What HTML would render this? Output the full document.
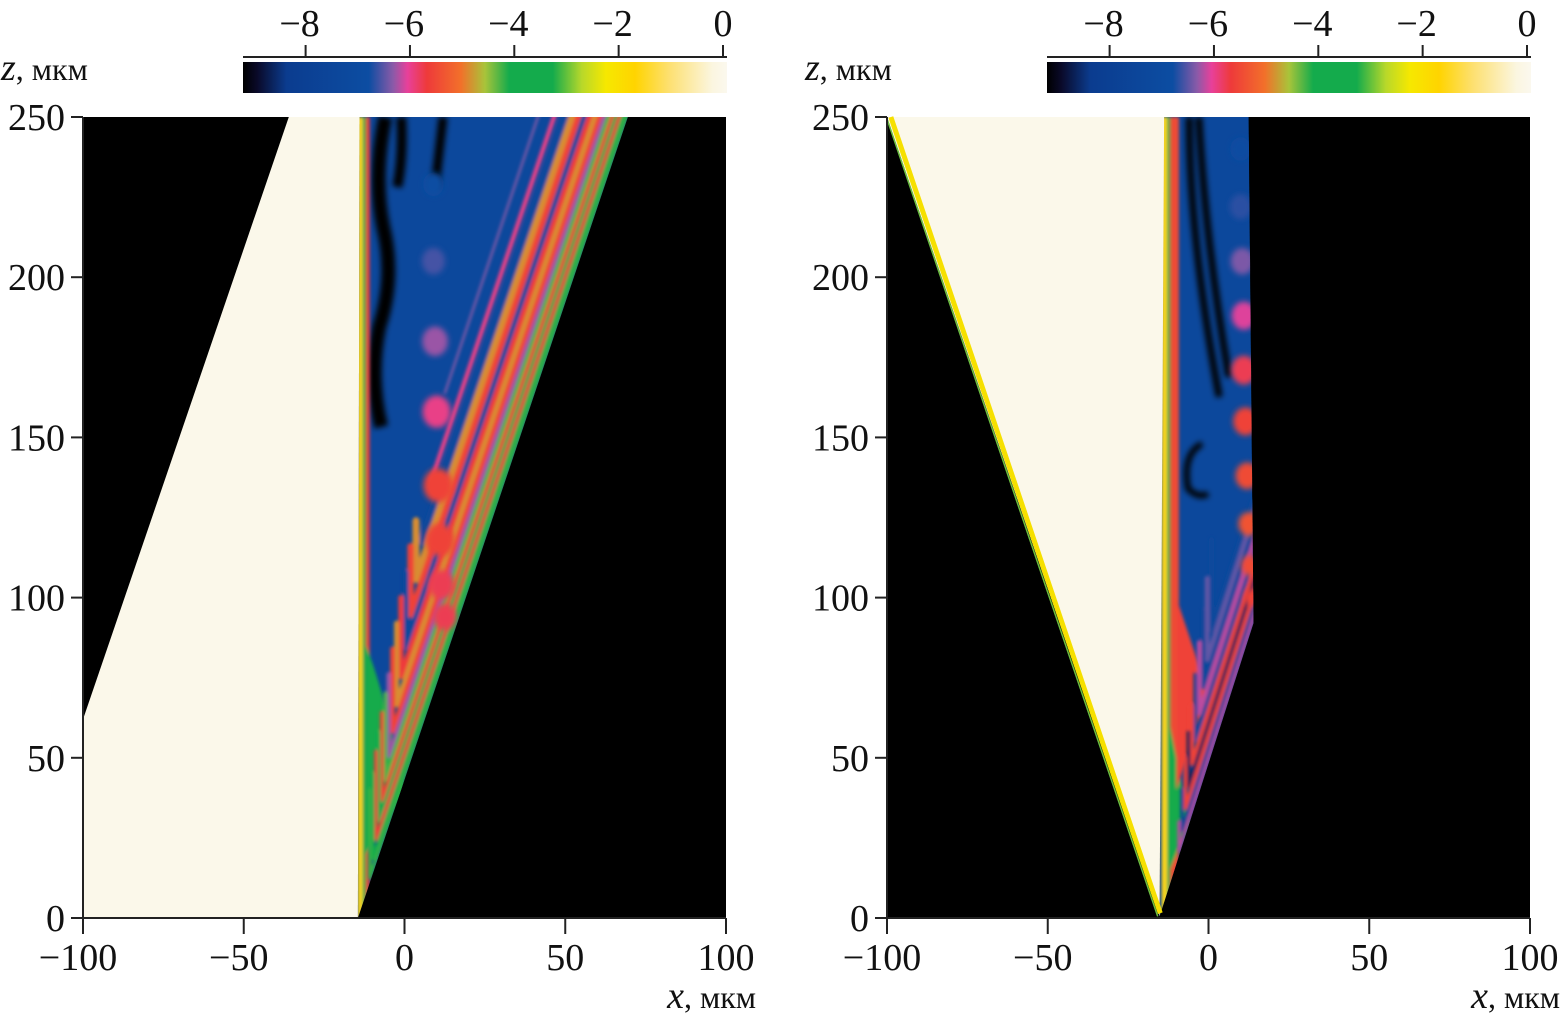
<!DOCTYPE html>
<html><head><meta charset="utf-8">
<style>
html,body{margin:0;padding:0;background:#fff;}
svg{display:block;}
text{font-family:"Liberation Serif","Times New Roman",serif;fill:#111;}
</style></head>
<body>
<svg id="fig" width="1562" height="1022" viewBox="0 0 1562 1022" xmlns="http://www.w3.org/2000/svg" font-family="Liberation Serif, serif">
<defs>
<linearGradient id="cmap" x1="0" x2="1" y1="0" y2="0">
<stop offset="0" stop-color="#000"/>
<stop offset="0.03" stop-color="#0a0a2a"/>
<stop offset="0.09" stop-color="#0b3c8f"/>
<stop offset="0.26" stop-color="#0c4da2"/>
<stop offset="0.31" stop-color="#8a5aa8"/>
<stop offset="0.34" stop-color="#e8409a"/>
<stop offset="0.38" stop-color="#ee3a3a"/>
<stop offset="0.45" stop-color="#f2702a"/>
<stop offset="0.50" stop-color="#a8c43a"/>
<stop offset="0.55" stop-color="#14ab4c"/>
<stop offset="0.64" stop-color="#14ab4c"/>
<stop offset="0.70" stop-color="#b8d82a"/>
<stop offset="0.75" stop-color="#f6e800"/>
<stop offset="0.81" stop-color="#ffd400"/>
<stop offset="0.88" stop-color="#fde070"/>
<stop offset="0.97" stop-color="#fbf6e0"/>
<stop offset="1" stop-color="#fbf8ee"/>
</linearGradient>
<filter id="blur2" x="-20%" y="-20%" width="140%" height="140%"><feGaussianBlur stdDeviation="1.5"/></filter>
<filter id="blur4" x="-50%" y="-50%" width="200%" height="200%"><feGaussianBlur stdDeviation="3"/></filter>
</defs>
<g id="root"></g>
</svg>
<script>
// ---- data (micrometres / log-intensity) ----
const xTicks = [-100, -50, 0, 50, 100];
const zTicks = [0, 50, 100, 150, 200, 250];
const cbTicks = [-8, -6, -4, -2, 0];
// left panel regions (x,z)
const leftCream = [[-100,0],[-100,62],[-36,250],[-14,250],[-14.5,0]];
const leftWedge = [[-14.5,0],[-14,250],[69.5,250],[-14.5,0]];
// left V-stripes: offset from diagonal, width, level, top of left arm (z; 0 = no left arm)
const leftStripeD   = [0.5, 1.6, 2.7, 3.8, 4.9, 6.1, 7.4, 8.8, 10.3, 11.9, 13.6, 15.4, 17.4, 19.6, 23, 28];
const leftStripeW   = [1.1, 1.1, 1.1, 1.1, 1.2, 1.3, 1.4, 1.5, 1.6, 1.7, 1.8, 2.0, 2.2, 2.4, 1.4, 0.8];
const leftStripeLvl = [-3.2, -4.0, -5.7, -4.0, -5.6, -4.3, -6.3, -5.6, -4.9, -5.7, -7.3, -5.6, -4.9, -7.3, -6.0, -6.4];
const leftStripeTop = [40, 45, 52, 58, 64, 70, 76, 84, 92, 100, 108, 116, 124, 0, 0, 0];
const leftDotX = [9, 9, 9.5, 10, 10.5, 11, 11.5, 12.5];
const leftDotZ = [229, 205, 180, 158, 135, 118, 104, 94];
const leftDotR = [3.2, 3.6, 4.0, 4.4, 4.6, 4.4, 4.0, 3.6];
const leftDotLvl = [-6.8, -6.6, -6.3, -6.0, -5.6, -5.6, -5.8, -5.8];
// right panel
const rightCream = [[-100,250],[-15.2,0.5],[-13.8,250]];
const rightWedge = [[-14.3,250],[12.5,250],[14,92],[-15.2,0.5]];
const rightStripeD   = [0.5, 1.6, 2.8, 4.0, 5.2, 6.5, 7.9, 9.3, 10.8, 12.4];
const rightStripeW   = [1.0, 1.1, 1.2, 1.1, 1.3, 1.2, 1.4, 1.3, 1.5, 1.6];
const rightStripeLvl = [-6.2, -7.6, -5.6, -8.7, -5.6, -7.6, -6.2, -7.4, -6.5, -7.3];
const rightStripeTop = [30, 40, 50, 58, 66, 76, 86, 96, 106, 118];
const rightDotX = [10, 10, 10.5, 11, 11, 11.5, 12, 12.5, 13, 13.5];
const rightDotZ = [240, 222, 205, 188, 171, 155, 138, 123, 110, 100];
const rightDotR = [3.2, 3.4, 3.6, 3.8, 3.9, 3.8, 3.6, 3.2, 2.8, 2.3];
const rightDotLvl = [-6.9, -6.7, -6.4, -6.1, -5.8, -5.6, -5.5, -5.4, -5.5, -5.6];

const NS = "http://www.w3.org/2000/svg";
const root = document.getElementById('root');
const cbMin = -9.2, cbMax = 0;
const stops = [[0,'#000'],[0.09,'#0b3c8f'],[0.26,'#0c4da2'],[0.31,'#8a5aa8'],[0.34,'#e8409a'],[0.38,'#ee3a3a'],[0.45,'#f2702a'],[0.5,'#a8c43a'],[0.55,'#14ab4c'],[0.64,'#14ab4c'],[0.7,'#b8d82a'],[0.75,'#f6e800'],[0.81,'#ffd400'],[0.97,'#fbf6e0'],[1,'#fbf8ee']];
function hex(c){c=c.replace('#','');if(c.length==3)c=c.split('').map(a=>a+a).join('');return [0,2,4].map(i=>parseInt(c.substr(i,2),16));}
function cmap(v){let t=(v-cbMin)/(cbMax-cbMin);t=Math.max(0,Math.min(1,t));
 for(let i=1;i<stops.length;i++){if(t<=stops[i][0]){const a=stops[i-1],b=stops[i];const f=(t-a[0])/(b[0]-a[0]||1);const A=hex(a[1]),B=hex(b[1]);return 'rgb('+A.map((x,k)=>Math.round(x+(B[k]-x)*f)).join(',')+')';}}
 return stops[stops.length-1][1];}
function el(tag, attrs, parent){const e=document.createElementNS(NS,tag);for(const k in attrs)e.setAttribute(k,attrs[k]);(parent||root).appendChild(e);return e;}

function panel(px0, side){
  const X = x => px0 + (x+100)*(643/200);
  const Z = z => 918 - z*(801/250);
  const g = el('g',{});
  
  
  const plot = el('rect',{x:X(-100),y:Z(250),width:X(100)-X(-100),height:Z(0)-Z(250),fill:'#000'},g);
  
  
  const pts = a => a.map(p=>X(p[0]).toFixed(1)+','+Z(p[1]).toFixed(1)).join(' ');
  const cid = side+'clip';
  const cp = el('clipPath',{id:cid},g);
  const wedge = side=='left'?leftWedge:rightWedge;
  el('polygon',{points:pts(wedge)},cp);
  const wg = el('g',{'clip-path':'url(#'+cid+')'},g);
  
  
  el('polygon',{points:pts(wedge),fill:cmap(-7.3)},wg);
  let edge, L0, kL;
  if(side=='left'){ edge = z => -14.5 + z*(84/250); L0=-11.2; kL=0.85; }
  else { edge = z => -15.2 + (z-0.5)*(29.2/91.5); L0=-9.6; kL=0.85; }
  const SD = side=='left'?leftStripeD:rightStripeD;
  const SW = side=='left'?leftStripeW:rightStripeW;
  const SL = side=='left'?leftStripeLvl:rightStripeLvl;
  const ST = side=='left'?leftStripeTop:rightStripeTop;
  const slope = side=='left'?84/250:29.2/91.5;
  // black blobs
  const bg = el('g',{filter:'url(#blur4)'},wg);
  if(side=='left'){
    el('path',{d:'M'+X(-6)+','+Z(250)+' q-12,60 -2,110 q12,50 -4,100 q-10,50 2,100',stroke:'#000','stroke-width':14,fill:'none'},bg);
    el('path',{d:'M'+X(-1)+','+Z(250)+' q2,40 -4,70',stroke:'#000','stroke-width':10,fill:'none'},bg);
    el('path',{d:'M'+X(12)+','+Z(250)+' l-8,70',stroke:'#000','stroke-width':9,fill:'none'},bg);
  } else {
    el('path',{d:'M'+X(-6)+','+Z(250)+' q0,120 30,280',stroke:'#000','stroke-width':7,fill:'none'},bg);
    el('path',{d:'M'+X(-3)+','+Z(250)+' q6,120 30,260',stroke:'#000','stroke-width':7,fill:'none'},bg);
    el('path',{d:'M'+X(-2)+','+Z(148)+' q-20,10 -14,45 q10,10 20,5',stroke:'#000','stroke-width':6,fill:'none'},bg);
  }
  // wall bands
  const lb = el('g',{filter:'url(#blur2)'},wg);
  const wall = side=='left'?[[-14.6,-13.0,-1.6],[-13.0,-12.0,-3.9],[-12.0,-10.8,-5.7]]:[[-14.6,-12.9,-1.6],[-12.9,-11.9,-3.9],[-11.9,-9.2,-5.5]];
  wall.forEach(w=>{ el('rect',{x:X(w[0]),y:Z(250),width:X(w[1])-X(w[0]),height:Z(0)-Z(250),fill:cmap(w[2])},lb); });
  if(side=='left'){
    el('path',{d:'M'+X(-12)+','+Z(20)+' L'+X(-12)+','+Z(85)+' Q'+X(-6)+','+Z(70)+' '+X(0)+','+Z(40)+' Z',fill:cmap(-4)},lb);
  } else {
    el('path',{d:'M'+X(-12)+','+Z(15)+' L'+X(-12)+','+Z(60)+' L'+X(-6)+','+Z(30)+' Z',fill:cmap(-4)},lb);
    el('path',{d:'M'+X(-10)+','+Z(40)+' L'+X(-10)+','+Z(100)+' L'+X(0)+','+Z(70)+' Z',fill:cmap(-5.6)},lb);
  }
  // V stripes (innermost first)
  const sg = el('g',{filter:'url(#blur2)',fill:'none','stroke-linejoin':'round','stroke-linecap':'round'},wg);
  for(let i=SD.length-1;i>=0;i--){
    const d=SD[i], lx=L0+d*kL;
    let zv=(lx+d-edge(0))/slope;
    const zt = side=='left'?260:130;
    let pl=[[edge(zt)-d,zt],[lx,zv]];
    if(ST[i]>zv) pl.push([lx,ST[i]]);
    const s=el('polyline',{points:pts(pl),stroke:cmap(SL[i]),'stroke-width':SW[i]*3.2},sg);
    
    
  }
  const dx = side=='left'?leftDotX:rightDotX, dz = side=='left'?leftDotZ:rightDotZ, dr = side=='left'?leftDotR:rightDotR, dl = side=='left'?leftDotLvl:rightDotLvl;
  const dg = el('g',{filter:'url(#blur4)'},wg);
  for(let i=0;i<dx.length;i++){
    const r=(X(dr[i])-X(0));
    const c=el('ellipse',{cx:X(dx[i]),cy:Z(dz[i]),rx:r,ry:r*1.15,fill:cmap(dl[i])},dg);
    
    
  }
  // cream lit region
  const cream = side=='left'?leftCream:rightCream;
  const cr = el('polygon',{points:pts(cream),fill:'#fbf8ea'},g);
  
  
  if(side=='right'){
    el('line',{x1:X(-98.8),y1:Z(250),x2:X(-15),y2:Z(1.5),stroke:'#f6e000','stroke-width':5},g);
    el('line',{x1:X(-100.2),y1:Z(250),x2:X(-15.8),y2:Z(0.5),stroke:'#6cc040','stroke-width':1.5},g);
  }
  // axes
  const ax = el('g',{stroke:'#222','stroke-width':2,fill:'none'},g);
  
  
  el('line',{x1:X(-100),y1:Z(0),x2:X(100),y2:Z(0)},ax);
  el('line',{x1:X(-100),y1:Z(0),x2:X(-100),y2:Z(250)},ax);
  xTicks.forEach(t=>{
    el('line',{x1:X(t),y1:Z(0),x2:X(t),y2:Z(0)+16},ax);
    const tx=el('text',{x:X(t)-(t<0?5:0),y:970,'font-size':38,'text-anchor':'middle','font-family':'Liberation Serif, serif'},g);
    tx.textContent=(t<0?'\u2212':'')+Math.abs(t);
    
    
  });
  zTicks.forEach(t=>{
    el('line',{x1:X(-100),y1:Z(t),x2:X(-100)-12,y2:Z(t)},ax);
    const tx=el('text',{x:X(-100)-18,y:Z(t)+13,'font-size':38,'text-anchor':'end','font-family':'Liberation Serif, serif'},g);
    tx.textContent=t;
    
    
  });
  const xl=el('text',{x:X(100)+30,y:1008,'font-size':32,'text-anchor':'end','font-family':'Liberation Serif, serif'},g);
  xl.innerHTML='<tspan font-style="italic" font-size="38">x</tspan>, мкм';
  
  
  const zl=el('text',{x:px0-82,y:80,'font-size':32,'font-family':'Liberation Serif, serif'},g);
  zl.innerHTML='<tspan font-style="italic" font-size="38">z</tspan>, мкм';
  
  
  // colorbar
  const cbx0 = px0+160, cbx1 = px0+644;
  const CB = v => cbx0 + (v-cbMin)/(cbMax-cbMin)*(cbx1-cbx0-4);
  const cb=el('rect',{x:cbx0,y:62,width:cbx1-cbx0,height:31,fill:'url(#cmap)'},g);
  
  
  el('line',{x1:cbx0,y1:57,x2:cbx1,y2:57,stroke:'#222','stroke-width':2},g);
  cbTicks.forEach(t=>{
    el('line',{x1:CB(t),y1:57,x2:CB(t),y2:45,stroke:'#222','stroke-width':2},g);
    const tx=el('text',{x:CB(t)-(t<0?6:0),y:36,'font-size':38,'text-anchor':'middle','font-family':'Liberation Serif, serif'},g);
    tx.textContent=(t<0?'\u2212':'')+Math.abs(t);
    
    
  });
}
panel(83,'left');
panel(887,'right');
</script>
</body></html>
